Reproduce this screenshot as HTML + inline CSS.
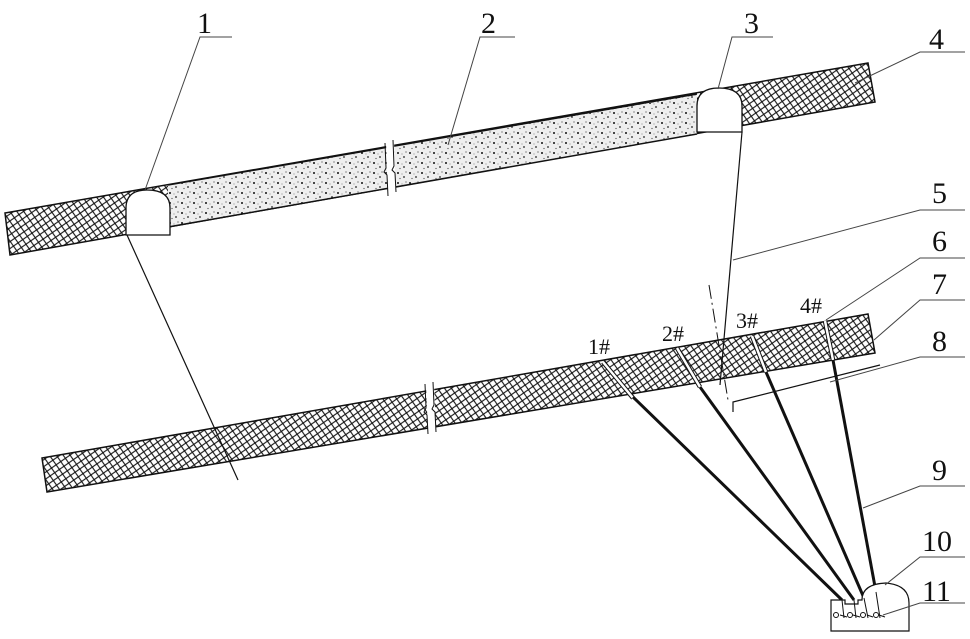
<!DOCTYPE html>
<html><head><meta charset="utf-8"><style>
html,body{margin:0;padding:0;background:#fff;}
svg{display:block;}
text{font-family:"Liberation Serif",serif;fill:#111;}
</style></head><body>
<svg width="970" height="639" viewBox="0 0 970 639" xmlns="http://www.w3.org/2000/svg">
<defs>
<pattern id="hatch" width="8" height="8" patternUnits="userSpaceOnUse" patternTransform="rotate(10)">
<rect width="8" height="8" fill="#fff"/>
<path d="M0,0 L8,8 M-2,6 L2,10 M6,-2 L10,2" stroke="#111" stroke-width="1.1"/>
<path d="M8,0 L0,8 M-2,2 L2,-2 M6,10 L10,6" stroke="#111" stroke-width="1.1"/>
</pattern>
<pattern id="dots" width="12" height="10" patternUnits="userSpaceOnUse">
<rect width="12" height="10" fill="#eeeeee"/>
<circle cx="2" cy="3" r="1" fill="#111"/>
<circle cx="8" cy="7" r="0.9" fill="#222"/>
<circle cx="10" cy="2" r="0.6" fill="#444"/>
<circle cx="4" cy="8.5" r="0.6" fill="#444"/>
<circle cx="6" cy="4" r="0.5" fill="#666"/>
</pattern>
</defs>

<polygon points="5,213 868,63 875,102 10,255" fill="url(#hatch)" stroke="#111" stroke-width="1.5"/>
<polygon points="168,185 697,95 697,134 168,227" fill="url(#dots)"/>
<line x1="168" y1="185" x2="697" y2="94" stroke="#111" stroke-width="1.5"/>
<line x1="168" y1="227" x2="697" y2="134" stroke="#111" stroke-width="1.5"/>
<polygon points="386,143 394,142 396,194 388,195" fill="#fff"/>
<path d="M385,143 L386,168 L384,172 L387,175 L388,196" fill="none" stroke="#111" stroke-width="1"/>
<path d="M393,140 L394,166 L392,170 L395,173 L396,192" fill="none" stroke="#111" stroke-width="1"/>

<path d="M126,235 L126,208 Q126,190 147,190 Q170,190 170,208 L170,235 Z" fill="#fff" stroke="#111" stroke-width="1.3"/>
<path d="M697,132 L697,106 Q697,88 719,88 Q742,88 742,106 L742,132 Z" fill="#fff" stroke="#111" stroke-width="1.3"/>

<polygon points="42,458 868,314 875,353 47,492" fill="url(#hatch)" stroke="#111" stroke-width="1.5"/>
<polygon points="426,386 434,385 436,432 428,433" fill="#fff"/>
<path d="M425,384 L426,408 L424,412 L427,415 L428,434" fill="none" stroke="#111" stroke-width="1"/>
<path d="M433,382 L434,405 L432,409 L435,412 L436,432" fill="none" stroke="#111" stroke-width="1"/>

<g stroke="#111" stroke-width="4.5" fill="none">
<line x1="603" y1="362" x2="633" y2="398"/>
<line x1="677" y1="348" x2="700" y2="387"/>
<line x1="752" y1="336" x2="766" y2="372"/>
<line x1="825" y1="321" x2="833" y2="360"/>
</g>
<g stroke="#fff" stroke-width="2.5" fill="none">
<line x1="603" y1="362" x2="633" y2="398"/>
<line x1="677" y1="348" x2="700" y2="387"/>
<line x1="752" y1="336" x2="766" y2="372"/>
<line x1="825" y1="321" x2="833" y2="360"/>
</g>
<g stroke="#111" stroke-width="3" fill="none">
<line x1="633" y1="397" x2="842" y2="600"/>
<line x1="700" y1="387" x2="854" y2="600"/>
<line x1="766" y1="372" x2="864" y2="598"/>
<line x1="833" y1="360" x2="876" y2="592"/>
</g>

<g stroke="#111" stroke-width="1.2" fill="none">
<line x1="127" y1="235" x2="238" y2="480"/>
<line x1="742" y1="132" x2="720" y2="385"/>
<path d="M733,412 L733,402 L880,365"/>
</g>
<line x1="709" y1="285" x2="728" y2="400" stroke="#111" stroke-width="1" stroke-dasharray="14,4,2,4"/>

<path d="M862,600 Q862,584 886,583 Q909,585 909,603 L909,631 L831,631 L831,600 L845,600 L845,604 L858,604 L858,600 Z" fill="#fff" stroke="#111" stroke-width="1.2"/>
<g stroke="#111" stroke-width="1" fill="none">
<path d="M842,600 L844,618 M854,600 L856,618 M864,598 L868,618 M876,592 L880,618"/>
<circle cx="836" cy="615" r="2.5"/><circle cx="850" cy="615" r="2.5"/><circle cx="863" cy="615" r="2.5"/><circle cx="876" cy="615" r="2.5"/>
<path d="M840,615 L847,617 M853,615 L860,617 M867,615 L873,617 M879,615 L885,617"/>
</g>

<g stroke="#444" stroke-width="1" fill="none">
<path d="M145,190 L200,37 L232,37"/>
<path d="M448,145 L480,37 L515,37"/>
<path d="M718,89 L732,37 L773,37"/>
<path d="M855,83 L920,52 L965,52"/>
<path d="M733,260 L920,210 L965,210"/>
<path d="M826,320 L920,258 L965,258"/>
<path d="M874,340 L920,300 L965,300"/>
<path d="M830,382 L920,357 L965,357"/>
<path d="M863,508 L920,486 L965,486"/>
<path d="M885,585 L920,557 L965,557"/>
<path d="M883,615 L920,603 L965,603"/>
</g>

<g font-size="30">
<text x="197" y="33">1</text>
<text x="481" y="33">2</text>
<text x="744" y="33">3</text>
<text x="929" y="49">4</text>
<text x="932" y="203">5</text>
<text x="932" y="251">6</text>
<text x="932" y="294">7</text>
<text x="932" y="351">8</text>
<text x="932" y="480">9</text>
<text x="922" y="551">10</text>
<text x="922" y="601">11</text>
</g>
<g font-size="22">
<text x="588" y="354">1#</text>
<text x="662" y="341">2#</text>
<text x="736" y="328">3#</text>
<text x="800" y="313">4#</text>
</g>
</svg>
</body></html>
